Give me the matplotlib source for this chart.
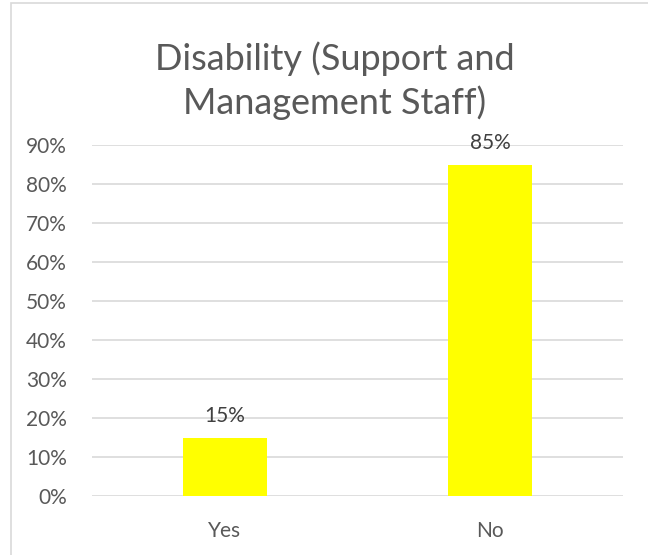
import matplotlib
matplotlib.use('Agg')
import matplotlib.pyplot as plt
from matplotlib.patches import Rectangle
from matplotlib.ticker import PercentFormatter

categories = ['Yes', 'No']
shares = [0.15, 0.85]
yticks = [0.0, 0.1, 0.2, 0.3, 0.4, 0.5, 0.6, 0.7, 0.8, 0.9]

plt.rcParams['font.family'] = ['Lato', 'DejaVu Sans']
text_color = '#595959'
grid_color = '#d9d9d9'

fig = plt.figure(figsize=(6.48, 5.55), dpi=100)

# outer chart frame, only the left and top edges fall inside the image
fig.patches.append(Rectangle((11 / 648, -0.1), 1.2, 1.1 - 3 / 555,
                             transform=fig.transFigure, fill=False,
                             edgecolor=grid_color, linewidth=1.2))

ax = fig.add_axes([92 / 648, 1 - 496 / 555, 531 / 648, 351 / 555])
x = range(len(categories))
bars = ax.bar(x, shares, width=0.316, color='#ffff00', zorder=3)
for b, v in zip(bars, shares):
    ax.text(b.get_x() + b.get_width() / 2, v + 0.03, f'{v:.0%}',
            ha='center', va='bottom', fontsize=15, color='#404040')

ax.set_xlim(-0.5, len(categories) - 0.5)
ax.set_ylim(0, 0.9)
ax.set_yticks(yticks)
ax.yaxis.set_major_formatter(PercentFormatter(1.0, decimals=0))
ax.set_xticks(list(x))
ax.set_xticklabels(categories)
ax.tick_params(length=0, labelsize=15, labelcolor=text_color)
ax.tick_params(axis='x', pad=18)
ax.tick_params(axis='y', pad=18)
ax.grid(axis='y', color=grid_color, linewidth=1.2, zorder=0)
for s in ax.spines.values():
    s.set_visible(False)

fig.text(335 / 648, 1 - 81 / 555, 'Disability (Support and\nManagement Staff)',
         ha='center', va='center', fontsize=26, color=text_color,
         linespacing=1.33)

fig.savefig('out.png', dpi=100)
